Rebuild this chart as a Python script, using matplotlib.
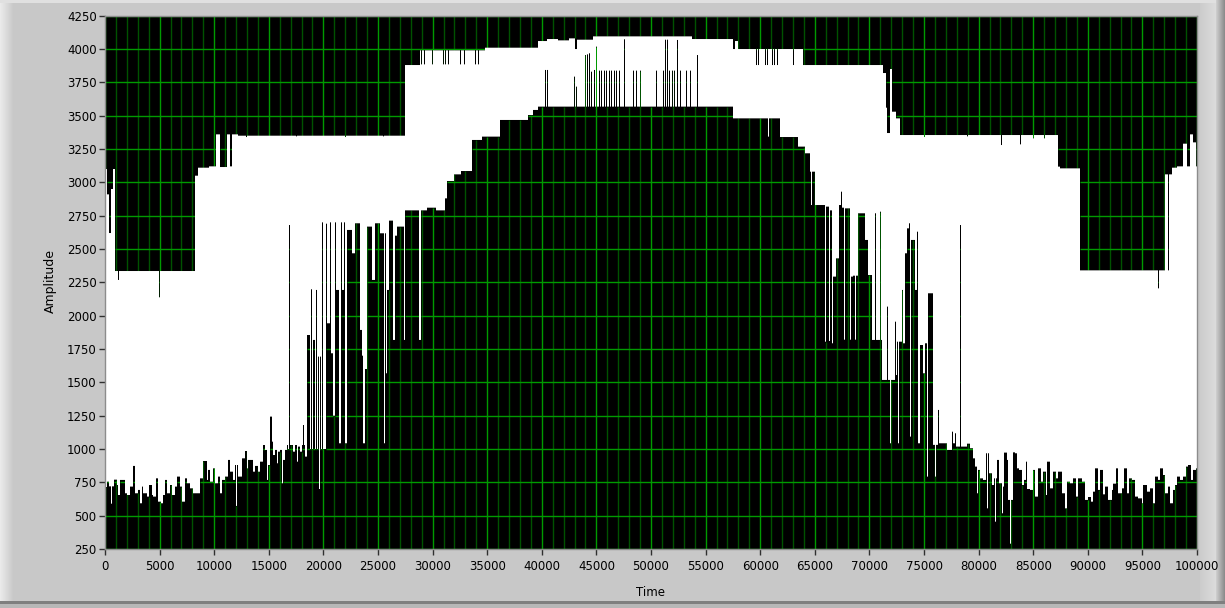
import numpy as np
import matplotlib
matplotlib.use("Agg")
import matplotlib.pyplot as plt
from matplotlib.collections import LineCollection

# ---------------------------------------------------------------------------
# Waveform envelope data (Time, Amplitude).  The trace is dense, so it is
# stored as the lower and upper edge of the drawn band; each step value
# holds until the next time entry.
# ---------------------------------------------------------------------------
lo_time = [
    0, 150, 400, 820, 1070, 1220, 1370, 1620, 1830, 1980, 2290, 2595, 2750,
    3050, 3200, 3360, 3510, 3820, 4060, 4270, 4430, 4670, 4890, 5100, 5340,
    5500, 5650, 5950, 6110, 6410, 6560, 6870, 7020, 7330, 7480, 7790, 8090,
    8400, 8700, 9010, 9310, 9460, 9620, 9920, 10080, 10380, 10530, 10690,
    10990, 11300, 11450, 11750, 11910, 12210, 12520, 12820, 12980, 13130,
    13430, 13590, 13740, 14040, 14200, 14500, 14650, 14810, 14960, 15110,
    15270, 15420, 15570, 15720, 15880, 16030, 16180, 16330, 16490, 16640,
    16790, 16950, 17190, 17400, 17550, 17710, 17860, 18010, 18320,
    18470, 18770, 18860, 18990, 19080, 19200, 19320, 19445, 19540, 19750,
    19840, 19930, 20240, 20360, 20600, 20700, 20910, 21060, 21150, 21460,
    21580, 21700, 21920, 22010, 22130, 22590, 22900, 23350, 23500, 23660,
    23800, 23960, 24420, 24730, 25190, 25550, 25640, 25735, 25830, 26040,
    26410, 26560, 26710, 27380, 27500, 28790, 28910, 29500, 30300, 31137,
    31290, 32000, 32600, 33580, 34500, 36180, 38770, 39200, 39690, 57546,
    61820, 63500, 64100, 64560, 65020, 65940, 66030, 66335, 66430, 66550,
    66700, 66950, 67250, 67400, 67525, 67710, 67800, 68230, 68320, 68530,
    68685, 68780, 68990, 69600, 69910, 70210, 70520, 70610, 70975, 71070,
    71130, 71585, 71680, 71890, 71980, 72350, 72440, 72500, 72655, 72745,
    72960, 73050, 73270, 73420, 73660, 73720, 73850, 74180, 74330, 74490,
    74640, 74950, 75100, 75250, 75400, 75710, 75860, 76010, 76100, 76320,
    76410, 77080, 77540, 77630, 77840, 77930, 78300, 78390, 78910,
    79216, 79460, 79675, 79830, 80130, 80437, 80650, 80985, 81200, 81414,
    81660, 81870, 82116, 82360, 82574, 82730, 83124, 83337, 83490, 83734,
    83950, 84192, 84345, 84470, 84711, 84956, 85170, 85474, 85690, 85932,
    86170, 86300, 86540, 86788, 87090, 87306, 87610, 87917, 88130, 88370,
    88680, 88920, 89138, 89440, 89750, 90050, 90268, 90510, 90665, 90970,
    91123, 91370, 91580, 91890, 92190, 92340, 92557, 92800, 93107, 93320,
    93565, 93810, 94023, 94330, 94634, 94939, 95090, 95396, 95700, 95946,
    96160, 96465, 96620, 96862, 97080, 97380, 97530, 97777, 97990, 98205,
    98450, 98756, 99000, 99213, 99420, 99672, 99915,
]
lo_amp = [
    715, 755, 720, 770, 730, 655, 768, 768, 668, 655, 718, 873, 668,
    693, 593, 718, 668, 643, 730, 655, 643, 780, 605, 593, 655,
    768, 668, 730, 655, 718, 793, 718, 605, 780, 743, 705, 668,
    668, 780, 910, 768, 843, 755, 855, 743, 793, 668, 768,
    793, 918, 830, 768, 880, 793, 930, 985, 855, 918,
    918, 830, 873, 830, 905, 1030, 993, 768, 880, 1243,
    1055, 955, 993, 893, 980, 993, 743, 918, 993, 1030,
    1000, 1030, 980, 1030, 905, 1018, 980, 1030, 943,
    1855, 1000, 2198, 1000, 1818, 1000, 2193, 1000, 1693, 1000,
    2700, 1000, 2690, 1943, 2700, 1718, 1250, 2700, 2193, 1043,
    2700, 2193, 2700, 1043, 2643, 2468, 2693, 1893, 1700, 1043,
    1600, 2668, 2268, 2693, 2618, 1043, 2618, 1568, 2193, 2713,
    1818, 2600, 2668, 1818, 2790, 1818, 2790, 2810, 2790, 2880,
    3010, 3060, 3085, 3318, 3343, 3468, 3505, 3543, 3568, 3480,
    3340, 3268, 3218, 3080, 2830, 1805, 2818, 1810, 2790, 1793,
    2293, 2430, 2830, 2930, 2810, 1820, 2805, 1820, 2293, 2300,
    1820, 2300, 2768, 2568, 2305, 1818, 2768, 1818, 2780, 1818,
    1518, 2068, 1518, 1043, 1518, 1955, 1555, 1805, 1043, 1805,
    2193, 1793, 2468, 2655, 2693, 1093, 2568, 2193, 2630, 1043,
    1780, 1568, 1793, 793, 2168, 2168, 1031, 793, 1031, 1293,
    1043, 993, 1130, 1043, 1118, 1018, 2680, 1018, 1040,
    1006, 930, 868, 843, 780, 768, 968, 818, 730, 780,
    918, 743, 718, 973, 918, 618, 975, 968, 855, 843,
    730, 768, 905, 700, 693, 843, 643, 855, 755, 830,
    655, 905, 705, 830, 780, 830, 668, 555, 755, 743,
    780, 643, 780, 755, 618, 640, 605, 680, 855, 693,
    843, 660, 718, 618, 693, 740, 855, 668, 705, 855,
    668, 780, 768, 643, 630, 593, 730, 680, 705, 593,
    793, 768, 855, 805, 668, 718, 593, 693, 730, 793,
    768, 793, 868, 880, 768, 843, 855,
]

# single-sample excursions of the lower edge
lo_spike_time = [610, 12060, 16880, 18160, 19660, 40360, 40540, 42980, 43200,
                 43990, 44170, 44360, 44570, 44820, 45030, 45270, 45490,
                 45700, 45940, 46190, 46400, 46650, 46860, 47070, 47530,
                 48390, 48630, 49060, 50520, 51130, 51290, 51530, 51690,
                 51990, 52140, 52420, 52660, 53210, 53580, 54280, 60750,
                 64700, 79890, 80800, 81506, 82200, 82880]
lo_spike_amp = [590, 573, 2680, 1180, 700, 3843, 3843, 3793, 3718,
                3955, 3960, 3968, 3830, 3843, 4018, 3838, 3838,
                3838, 3838, 3838, 3838, 3838, 3838, 3838, 4073,
                3838, 3838, 3838, 3838, 3838, 4070, 4070, 3838,
                3838, 3838, 4068, 3838, 3838, 3838, 3955, 3343,
                2830, 668, 555, 455, 518, 290]

hi_time = [0, 150, 400, 530, 770, 916, 8240, 8500, 9500, 10160, 10530,
           11170, 11450, 11630, 12180, 27470, 28850, 34800, 39690,
           40500, 41500, 42500, 43045, 43200, 44720, 53730, 57546, 57700,
           58000, 63960, 71280, 71500, 71650, 71850, 72100, 72400, 72800,
           87300, 87460, 89290, 97075, 97690, 98150, 98750, 99060, 99360,
           99670, 99900]
hi_amp = [3100, 2910, 2620, 2950, 3100, 2335, 3050, 3110, 3120, 3360, 3115,
          3360, 3120, 3360, 3350, 3880, 3990, 4010, 4060,
          4075, 4065, 4080, 4000, 4070, 4095, 4075, 4000, 4060,
          4000, 3880, 3820, 3560, 3370, 3850, 3530, 3480, 3355,
          3118, 3105, 2340, 3060, 3110, 3120, 3290, 3120, 3360,
          3300, 3120]

# single-sample excursions of the upper edge
hi_spike_time = [1220, 4975, 13000, 17500, 22000, 25500,
                 28950, 29250, 29950, 31000, 31200, 31500, 32600, 32900,
                 33900, 34200, 59700, 59850, 60500, 60650, 61100, 61350,
                 61550, 63040,
                 75000, 79000, 82115, 83800, 85000, 86000, 96460, 97400]
hi_spike_amp = [2268, 2138, 3340, 3345, 3340, 3345,
                3885, 3885, 3885, 3885, 3885, 3885, 3885, 3885,
                3885, 3885, 3880, 3880, 3880, 3880, 3880, 3880,
                3880, 3880,
                3340, 3345, 3280, 3285, 3330, 3330, 2205, 2340]

x_ticks = list(range(0, 100001, 5000))
x_minor = list(range(0, 100001, 1000))
y_ticks = list(range(250, 4251, 250))
x_label = "Time"
y_label = "Amplitude"

# ---------------------------------------------------------------------------
W, H = 1225, 608
fig = plt.figure(figsize=(W / 100, H / 100), dpi=100)

# bevelled panel background
bg = np.full((H, W), 0.785)
bg[:, :14] = np.linspace(0.92, 0.785, 14)[None, :]
bg[:, 1200:1216] = np.linspace(0.80, 0.86, 16)[None, :]
bg[:, 1216:] = np.linspace(0.80, 0.55, W - 1216)[None, :]
bg[:3, :1216] = 0.88
bg[601:604, :] = 0.50
bg[604:, :] = 0.72
bga = fig.add_axes([0, 0, 1, 1], zorder=-10)
bga.imshow(np.dstack([bg] * 3), aspect="auto", interpolation="nearest")
bga.axis("off")

x0, x1, y0, y1 = 105, 1197, 15.7, 549
ax = fig.add_axes([x0 / W, 1 - y1 / H, (x1 - x0) / W, (y1 - y0) / H])
ax.set_facecolor("black")
ax.grid(False)

# one sample per screen column
ncol = int(x1 - x0)
colw = 100000 / ncol
edges = np.arange(ncol + 1) * colw


def edge(times, amps, s_times, s_amps):
    times = np.asarray(times, float)
    amps = np.asarray(amps, float)
    centres = edges[:-1] + colw / 2
    idx = np.clip(np.searchsorted(times, centres, side="right") - 1, 0,
                  len(amps) - 1)
    e = amps[idx].copy()
    for st, sa in zip(s_times, s_amps):
        e[min(int(st / colw), ncol - 1)] = sa
    return e


lo = edge(lo_time, lo_amp, lo_spike_time, lo_spike_amp)
hi = edge(hi_time, hi_amp, hi_spike_time, hi_spike_amp)
hi = np.maximum(hi, lo)


def col_of(v):
    return min(int(v / colw), ncol - 1)


# graticule segments, only where the trace leaves the screen dark
def vsegments(xs):
    segs = []
    for xv in xs:
        c = col_of(xv)
        if lo[c] > 250:
            segs.append([(xv, 250), (xv, lo[c])])
        if hi[c] < 4250:
            segs.append([(xv, hi[c]), (xv, 4250)])
    return segs


def hsegments(ys):
    segs = []
    for yv in ys:
        dark = (yv < lo) | (yv > hi)
        start = None
        for c in range(ncol + 1):
            on = c < ncol and dark[c]
            if on and start is None:
                start = c
            elif not on and start is not None:
                segs.append([(edges[start], yv), (edges[c], yv)])
                start = None
    return segs


minor_only = [v for v in x_minor if v not in x_ticks]
ax.add_collection(LineCollection(vsegments(minor_only), colors="#005200",
                                 linewidths=1.0, zorder=1))
ax.add_collection(LineCollection(vsegments(x_ticks), colors="#009a00",
                                 linewidths=1.0, zorder=1.1))
ax.add_collection(LineCollection(hsegments(y_ticks), colors="#009a00",
                                 linewidths=1.0, zorder=1.1))

trace = ax.stairs(hi, edges, baseline=lo, fill=True, color="white",
                  linewidth=0)
trace.set_zorder(5)

ax.set_xlim(0, 100000)
ax.set_ylim(250, 4250)
ax.set_xticks(x_ticks)
ax.set_yticks(y_ticks)
ax.set_xticklabels([str(v) for v in x_ticks])
ax.set_yticklabels([str(v) for v in y_ticks])

ax.tick_params(which="major", direction="out", length=4, width=1,
               color="#303030", labelsize=8.5, labelcolor="black", pad=2)
ax.tick_params(axis="x", pad=4)
for lab in ax.get_xticklabels() + ax.get_yticklabels():
    lab.set_fontfamily("DejaVu Sans")
for sp in ax.spines.values():
    sp.set_color("#8c8c8c")
    sp.set_linewidth(1)
    sp.set_zorder(6)

fig.text(50 / W, 1 - 281 / H, y_label, rotation=90, ha="center", va="center",
         fontsize=9, family="DejaVu Sans")
fig.text(651 / W, 1 - 592 / H, x_label, ha="center", va="center",
         fontsize=8.5, family="DejaVu Sans")

fig.savefig("out.png", dpi=100)
